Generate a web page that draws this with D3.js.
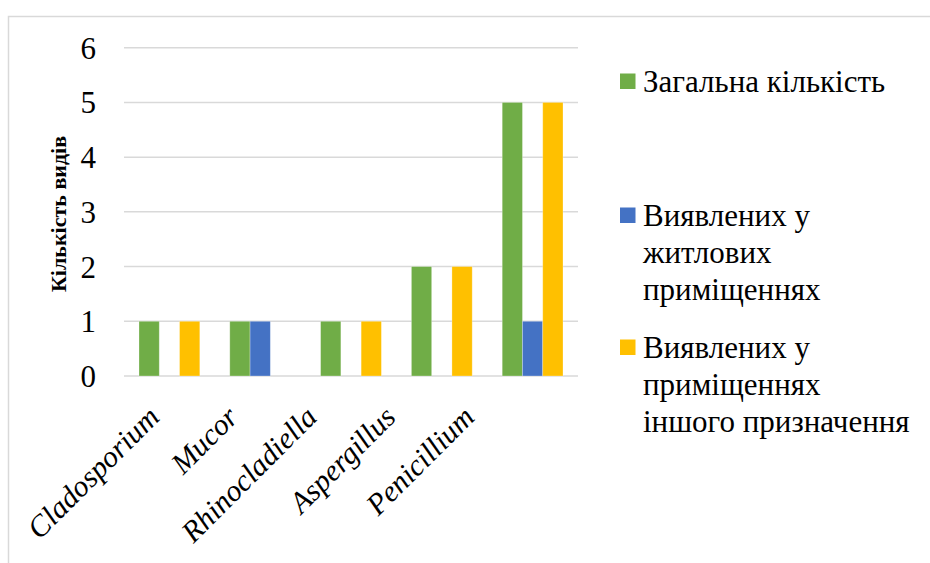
<!DOCTYPE html>
<html>
<head>
<meta charset="utf-8">
<script src="https://cdn.jsdelivr.net/npm/d3@7"></script>
</head>
<body style="margin:0;background:#fff">
<svg id="chart" width="930" height="563" font-family="Liberation Serif"></svg>
<script>
// Genera of mould fungi and number of species found
const categories = ["Cladosporium", "Mucor", "Rhinocladiella", "Aspergillus", "Penicillium"];
const seriesNames = [
  "Загальна кількість",
  "Виявлених у житлових приміщеннях",
  "Виявлених у приміщеннях іншого призначення"
];
const totalSpecies   = [1, 1, 1, 2, 5];
const residential    = [0, 1, 0, 0, 1];
const otherPremises  = [1, 0, 1, 2, 5];
const yTicks = [0, 1, 2, 3, 4, 5, 6];
const yTitle = "Кількість видів";

// legend text broken into lines as laid out
const legendLines = [
  ["Загальна кількість"],
  ["Виявлених у", "житлових", "приміщеннях"],
  ["Виявлених у", "приміщеннях", "іншого призначення"]
];
const colors = ["#70ad47", "#4472c4", "#ffc000"];

const FONT = "Liberation Serif";

const seriesValues = [totalSpecies, residential, otherPremises];
const rows = categories.map((c, i) => ({
  category: c,
  values: seriesValues.map((vals, s) => ({ key: seriesNames[s], value: vals[i], color: colors[s] }))
}));

const svg = d3.select("#chart");

// outer frame
svg.append("rect")
  .attr("x", 8.5).attr("y", 16.5)
  .attr("width", 940).attr("height", 560)
  .attr("fill", "none").attr("stroke", "#d9d9d9").attr("stroke-width", 1.5);

const plot = { left: 124, right: 578, top: 47.7, bottom: 376 };

const x0 = d3.scaleBand().domain(categories).range([plot.left, plot.right]).padding(0);
const x1 = d3.scaleBand().domain(seriesNames).range([0, x0.bandwidth()])
  .paddingInner(0).paddingOuter(0.74);
const y = d3.scaleLinear().domain([0, 6]).range([plot.bottom, plot.top]);

// gridlines
svg.append("g")
  .selectAll("line")
  .data(yTicks)
  .join("line")
  .attr("x1", plot.left).attr("x2", plot.right)
  .attr("y1", d => y(d)).attr("y2", d => y(d))
  .attr("stroke", "#d9d9d9").attr("stroke-width", 1.5);

// y tick labels
const yAxis = d3.axisLeft(y).tickValues(yTicks).tickSize(0).tickPadding(0).tickFormat(d3.format("d"));
svg.append("g")
  .attr("transform", "translate(96,0)")
  .call(yAxis)
  .call(g => g.select(".domain").remove())
  .attr("font-family", FONT)
  .attr("font-size", 31)
  .selectAll("text")
  .attr("font-family", FONT)
  .attr("font-size", 31)
  .attr("fill", "#000")
  .attr("dy", "0.34em");

// y axis title
svg.append("text")
  .attr("transform", "translate(66,214) rotate(-90)")
  .attr("text-anchor", "middle")
  .attr("font-family", FONT)
  .attr("font-size", 22)
  .attr("font-weight", "bold")
  .attr("fill", "#000")
  .text(yTitle);

// bars
const groups = svg.append("g")
  .selectAll("g")
  .data(rows)
  .join("g")
  .attr("transform", d => `translate(${x0(d.category)},0)`);

groups.selectAll("rect")
  .data(d => d.values.filter(v => v.value > 0))
  .join("rect")
  .attr("x", d => x1(d.key))
  .attr("width", x1.bandwidth())
  .attr("y", d => y(d.value))
  .attr("height", d => y(0) - y(d.value))
  .attr("fill", d => d.color)
  .attr("stroke", "#ffffff")
  .attr("stroke-opacity", 0.35)
  .attr("stroke-width", 0.8);

// category labels, rotated
const labelX = d3.scalePoint().domain(categories).range([161, 476]);
svg.append("g")
  .selectAll("text")
  .data(categories)
  .join("text")
  .attr("transform", d => `translate(${labelX(d)},419) rotate(-45)`)
  .attr("text-anchor", "end")
  .attr("font-family", FONT)
  .attr("font-size", 30)
  .attr("font-style", "italic")
  .attr("fill", "#000")
  .text(d => d);

// legend
const legendY = [92, 226, 358];
const legend = svg.append("g")
  .selectAll("g")
  .data(seriesNames)
  .join("g")
  .attr("transform", (d, i) => `translate(620,${legendY[i]})`);

legend.append("rect")
  .attr("x", 0).attr("y", -18.5)
  .attr("width", 15.5).attr("height", 15.5)
  .attr("fill", (d, i) => colors[i]);

legend.append("text")
  .attr("x", 23)
  .attr("font-family", FONT)
  .attr("font-size", 31)
  .attr("fill", "#000")
  .selectAll("tspan")
  .data((d, i) => legendLines[i])
  .join("tspan")
  .attr("x", 23)
  .attr("dy", (d, j) => j === 0 ? 0 : 37)
  .text(d => d);
</script>
</body>
</html>
